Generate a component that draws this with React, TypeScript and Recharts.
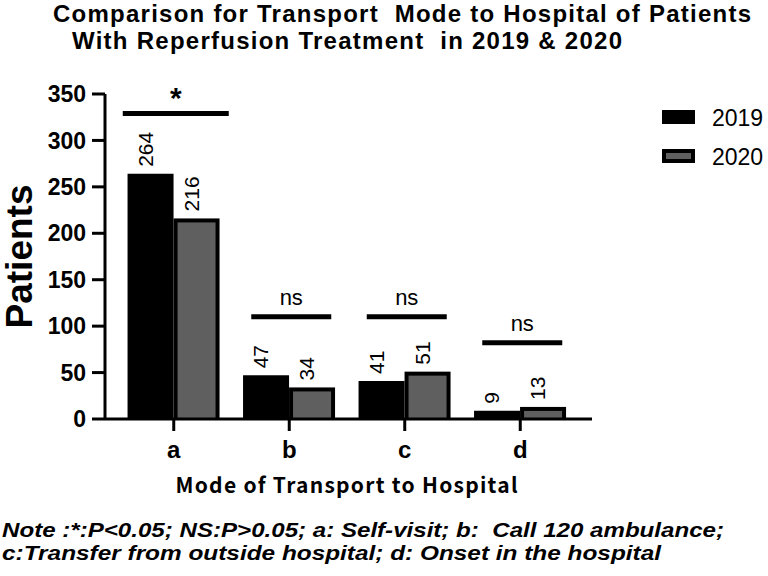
import React from "react";
import {
  ComposedChart,
  Bar,
  Line,
  XAxis,
  YAxis,
  LabelList,
} from "recharts";

const categories = ["a", "b", "c", "d"];
const patients2019 = [264, 47, 41, 9];
const patients2020 = [216, 34, 51, 13];
const sigMarks = ["*", "ns", "ns", "ns"];
const sigLevels = [329, 110, 110, 82];
const yTicks = [0, 50, 100, 150, 200, 250, 300, 350];
const seriesNames = ["2019", "2020"];

const data = categories.map((c, i) => ({
  name: c,
  y2019: patients2019[i],
  y2020: patients2020[i],
  sig: sigLevels[i],
  mark: sigMarks[i],
}));

const FONT = "'Liberation Sans', Arial, sans-serif";
const GRAY = "#5f5f5f";

// gray bar with a thick black outline
const OutlinedBar = (props: any) => {
  const { x, y, width, height } = props;
  const b = 4;
  const innerH = Math.max(height - b - 1, 0);
  return (
    <g>
      <rect x={x} y={y} width={width} height={height} fill="#000" />
      {innerH > 0 && (
        <rect x={x + b} y={y + b} width={width - 2 * b} height={innerH} fill={GRAY} />
      )}
    </g>
  );
};

const valueLabel = (props: any) => {
  const { x, y, width, value } = props;
  const cx = x + width / 2 + 2;
  const ty = y - 7;
  return (
    <text
      x={cx}
      y={ty}
      transform={`rotate(-90 ${cx} ${ty})`}
      fontFamily={FONT}
      fontSize={21}
      fill="#000"
      textAnchor="start"
    >
      {value}
    </text>
  );
};

const sigDot = (props: any) => {
  const { cx, cy, index, payload } = props;
  const half = index === 0 ? 53 : 40;
  const mid = cx + 2;
  const isStar = payload.mark === "*";
  return (
    <g key={`sig-${index}`}>
      <line x1={mid - half} x2={mid + half} y1={cy} y2={cy} stroke="#000" strokeWidth={5} />
      <text
        x={mid}
        y={isStar ? cy - 6 : cy - 12}
        textAnchor="middle"
        fontFamily={FONT}
        fontSize={isStar ? 30 : 22}
        fontWeight={isStar ? 700 : 400}
        fill="#000"
      >
        {payload.mark}
      </text>
    </g>
  );
};

export default function App() {
  return (
    <div style={{ position: "absolute", left: 0, top: 0, width: 768, height: 576, background: "#fff" }}>
      <ComposedChart
        width={768}
        height={576}
        data={data}
        margin={{ top: 94, right: 176, left: 0, bottom: 0 }}
        barCategoryGap="10%"
        barGap={0}
      >
        <XAxis
          dataKey="name"
          height={157}
          padding={{ left: 11, right: 14 }}
          axisLine={{ stroke: "#000", strokeWidth: 3 }}
          tickLine={{ stroke: "#000", strokeWidth: 3 }}
          tickSize={12}
          tickMargin={10}
          tick={{ fill: "#000", fontFamily: FONT, fontSize: 24, fontWeight: 700 }}
          label={{
            content: (p: any) => {
              const vb = p.viewBox;
              return (
                <text
                  x={vb.x + vb.width / 2 - 2}
                  y={vb.y + 74}
                  textAnchor="middle"
                  fontFamily="'Noto Sans CJK JP', 'DejaVu Sans', sans-serif"
                  fontWeight={700}
                  fontSize={21}
                  textLength={342}
                  lengthAdjust="spacing"
                  fill="#000"
                >
                  Mode of Transport to Hospital
                </text>
              );
            },
          }}
        />
        <YAxis
          width={105}
          domain={[0, 350]}
          ticks={yTicks}
          interval={0}
          axisLine={{ stroke: "#000", strokeWidth: 3 }}
          tickLine={{ stroke: "#000", strokeWidth: 3 }}
          tickSize={13}
          tickMargin={6}
          tick={{ fill: "#000", fontFamily: FONT, fontSize: 23, fontWeight: 700 }}
          label={{
            content: (p: any) => {
              const vb = p.viewBox;
              const cx = 32;
              const cy = vb.y + vb.height / 2;
              return (
                <text
                  x={cx}
                  y={cy}
                  transform={`rotate(-90 ${cx} ${cy})`}
                  textAnchor="middle"
                  fontFamily={FONT}
                  fontWeight={700}
                  fontSize={37}
                  fill="#000"
                >
                  Patients
                </text>
              );
            },
          }}
        />
        <Bar dataKey="y2019" name={seriesNames[0]} fill="#000" isAnimationActive={false}>
          <LabelList dataKey="y2019" content={valueLabel} />
        </Bar>
        <Bar dataKey="y2020" name={seriesNames[1]} fill={GRAY} shape={OutlinedBar} isAnimationActive={false}>
          <LabelList dataKey="y2020" content={valueLabel} />
        </Bar>
        <Line
          dataKey="sig"
          stroke="none"
          dot={sigDot}
          activeDot={false}
          legendType="none"
          isAnimationActive={false}
        />
      </ComposedChart>
      <svg
        width={768}
        height={576}
        style={{ position: "absolute", left: 0, top: 0, pointerEvents: "none" }}
      >
        <g fontFamily={FONT} fontWeight={700} fontSize={24} fill="#000">
          <text x={53} y={22} textLength={698} lengthAdjust="spacing" xmlSpace="preserve">
            Comparison for Transport  Mode to Hospital of Patients
          </text>
          <text x={72} y={49} textLength={550} lengthAdjust="spacing" xmlSpace="preserve">
            With Reperfusion Treatment  in 2019 &amp; 2020
          </text>
        </g>
        <g fontFamily={FONT} fontSize={23} fill="#000">
          <rect x={662} y={110} width={33} height={14} fill="#000" />
          <text x={712} y={126}>{seriesNames[0]}</text>
          <rect x={662} y={149} width={33} height={14} fill="#000" />
          <rect x={666} y={153} width={25} height={6} fill={GRAY} />
          <text x={712} y={165}>{seriesNames[1]}</text>
        </g>
        <g fontFamily={FONT} fontWeight={700} fontStyle="italic" fontSize={21} fill="#000">
          <text x={2} y={537} textLength={722} lengthAdjust="spacingAndGlyphs" xmlSpace="preserve">
            Note :*:P&lt;0.05; NS:P&gt;0.05; a: Self-visit; b:  Call 120 ambulance;
          </text>
          <text x={2} y={560} textLength={659} lengthAdjust="spacingAndGlyphs">
            c:Transfer from outside hospital; d: Onset in the hospital
          </text>
        </g>
      </svg>
    </div>
  );
}
